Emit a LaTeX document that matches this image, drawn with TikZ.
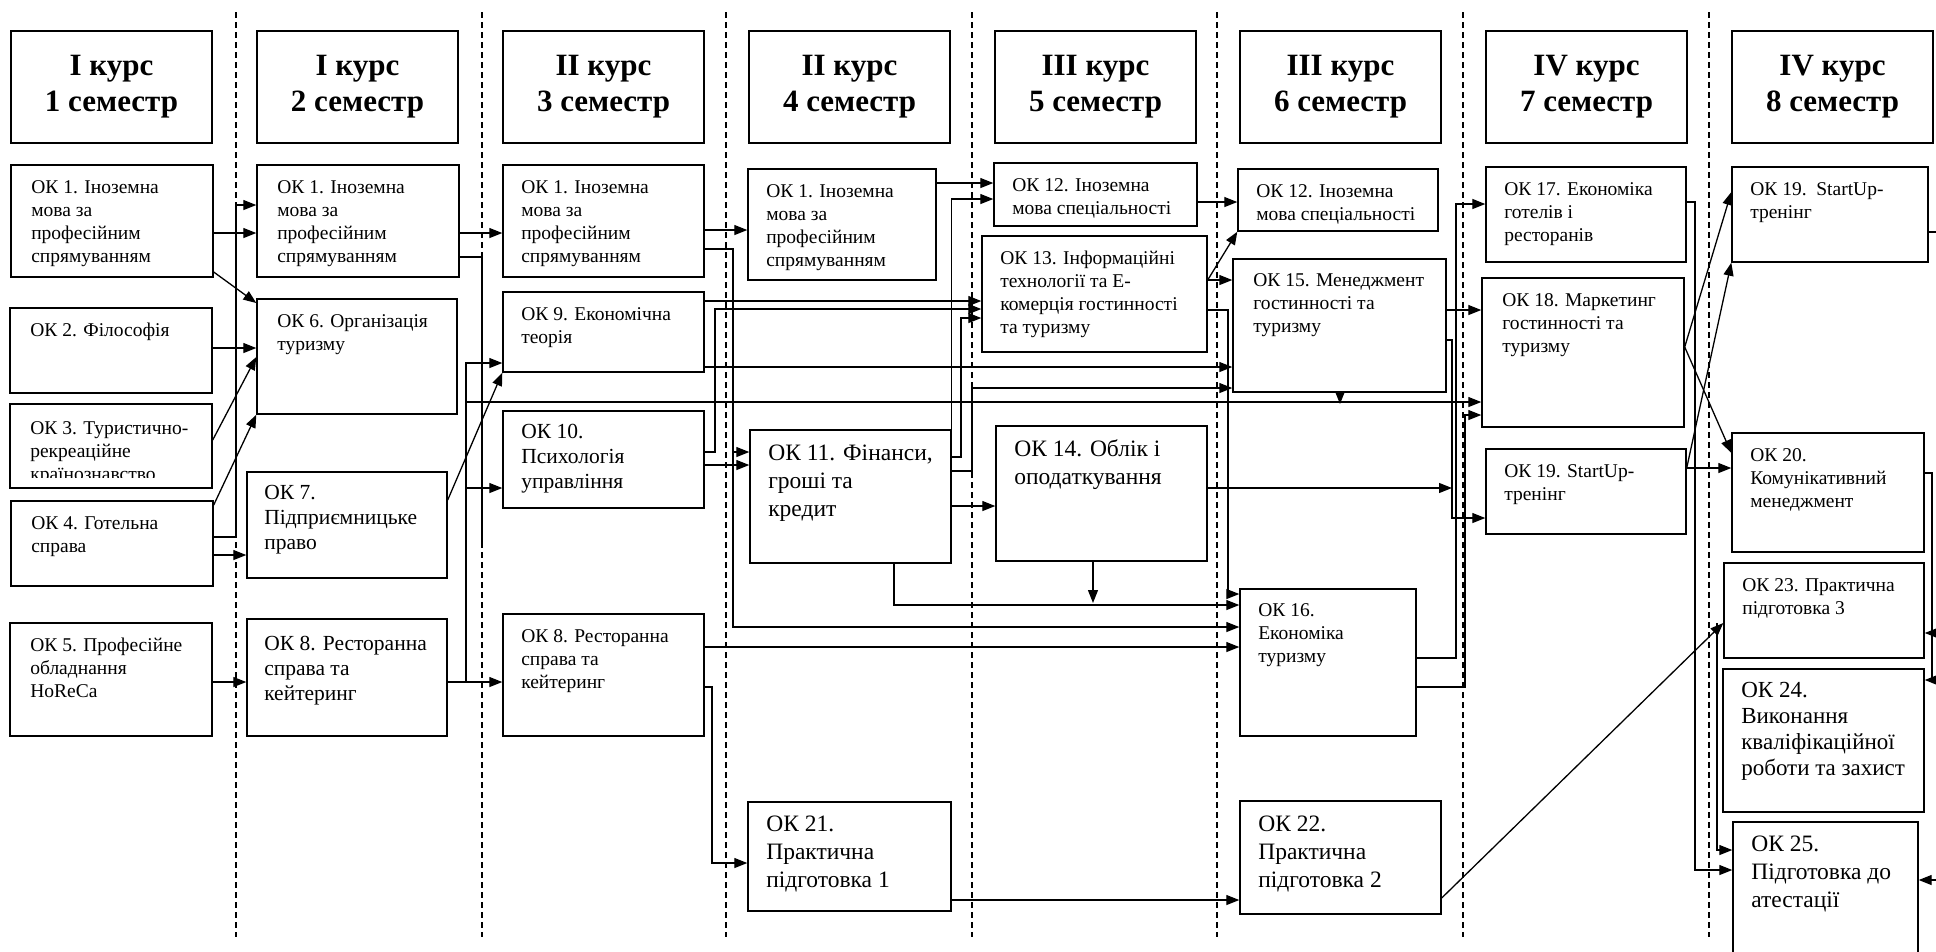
\documentclass[tikz,border=0pt]{standalone}
\usepackage{fontspec}
\setmainfont{Liberation Serif}
\usetikzlibrary{positioning,arrows.meta}

\begin{document}
\begin{tikzpicture}[x=1pt, y=-1pt,
    box/.style={draw, line width=1.4pt, fill=white, inner sep=0pt},
    head/.style={box, align=center, font=\bfseries\fontsize{31}{36}\selectfont},
    txt/.style={inner sep=0pt, outer sep=0pt, align=left},
    tsmall/.style={txt, font=\fontsize{19.5}{23}\selectfont},
    tmid/.style={txt, font=\fontsize{21.5}{25}\selectfont},
    tlarge/.style={txt, font=\fontsize{23.5}{28}\selectfont},
    link/.style={line width=1.3pt, -{Triangle[length=13pt,width=10pt]}},
    wire/.style={line width=1.3pt},
    sep/.style={line width=1.2pt, dash pattern=on 6pt off 4pt}]

    \useasboundingbox (0,0) rectangle (1936,951);

    % РОЗДІЛЬНИКИ СЕМЕСТРІВ
    \foreach \x in {236,482,726,972,1217,1463,1709}
        \draw[sep] (\x,12) -- (\x,937);

    % ЗАГОЛОВКИ
    \foreach \nr/\xa/\kr in {1/11/I, 2/257/I, 3/503/II, 4/749/II, 5/995/III, 6/1240/III, 7/1486/IV, 8/1732/IV}
        \node[head, minimum width=201pt, minimum height=112pt] (sem\nr) at (\xa+100.5,87) {\kr{} курс\\\nr{} семестр};

    % РАМКИ ДИСЦИПЛІН
    \foreach \nm/\xa/\ya/\xb/\yb in {
        k1a/11/165/213/277, k2/10/308/212/393, k3/10/404/212/488, k4/11/501/213/586, k5/10/623/212/736,
        k1b/257/165/459/277, k6/257/299/457/414, k7/247/472/447/578, k8b/247/619/447/736,
        k1c/503/165/704/277, k9/503/292/704/372, k10/503/411/704/508, k8c/503/614/704/736,
        k1d/748/169/936/280, k11/750/430/951/563, k21/748/802/951/911,
        k12e/994/163/1197/226, k13/982/236/1207/352, k14/996/426/1207/561,
        k12f/1238/169/1438/231, k15/1233/259/1446/392, k16/1240/589/1416/736, k22/1240/801/1441/914,
        k17/1486/167/1686/262, k18/1482/278/1684/427, k19g/1486/449/1686/534,
        k19h/1732/167/1928/262, k20/1732/433/1924/552, k23/1724/563/1924/658, k24/1723/669/1924/812, k25/1733/822/1918/958}
        \node[box, minimum width={(\xb-\xa)*1pt}, minimum height={(\yb-\ya)*1pt}] (\nm) at ({(\xa+\xb)/2},{(\ya+\yb)/2}) {};

    % ТЕКСТИ: 1 СЕМЕСТР
    \node[tsmall, below right=13pt and 21pt of k1a.north west] (k1a-t) {\strut ОК 1. Іноземна\\мова за\\професійним\\спрямуванням};
    \node[tsmall, below right=13pt and 21pt of k2.north west] (k2-t) {\strut ОК 2. Філософія};
    \begin{scope}
        \clip (10,404) rectangle (212,477);
        \node[tsmall, below right=15pt and 21pt of k3.north west] (k3-t) {\strut ОК 3. Туристично-\\рекреаційне\\країнознавство};
    \end{scope}
    \node[tsmall, below right=13pt and 21pt of k4.north west] (k4-t) {\strut ОК 4. Готельна\\справа};
    \node[tsmall, below right=13pt and 21pt of k5.north west] (k5-t) {\strut ОК 5. Професійне\\обладнання\\HoReCa};

    % 2 СЕМЕСТР
    \node[tsmall, below right=13pt and 21pt of k1b.north west] (k1b-t) {\strut ОК 1. Іноземна\\мова за\\професійним\\спрямуванням};
    \node[tsmall, below right=13pt and 21pt of k6.north west] (k6-t) {\strut ОК 6. Організація\\туризму};
    \node[tmid, below right=11pt and 18pt of k7.north west] (k7-t) {\strut ОК 7.\\Підприємницьке\\право};
    \node[tmid, below right=15pt and 18pt of k8b.north west] (k8b-t) {\strut ОК 8. Ресторанна\\справа та\\кейтеринг};

    % 3 СЕМЕСТР
    \node[tsmall, below right=13pt and 19pt of k1c.north west] (k1c-t) {\strut ОК 1. Іноземна\\мова за\\професійним\\спрямуванням};
    \node[tsmall, below right=13pt and 19pt of k9.north west] (k9-t) {\strut ОК 9. Економічна\\теорія};
    \node[tmid, below right=11pt and 19pt of k10.north west] (k10-t) {\strut ОК 10.\\Психологія\\управління};
    \node[tsmall, below right=13pt and 19pt of k8c.north west] (k8c-t) {\strut ОК 8. Ресторанна\\справа та\\кейтеринг};

    % 4 СЕМЕСТР
    \node[tsmall, below right=13pt and 19pt of k1d.north west] (k1d-t) {\strut ОК 1. Іноземна\\мова за\\професійним\\спрямуванням};
    \node[tlarge, below right=12pt and 19pt of k11.north west] (k11-t) {\strut ОК 11. Фінанси,\\гроші та\\кредит};
    \node[tlarge, below right=11pt and 19pt of k21.north west] (k21-t) {\strut ОК 21.\\Практична\\підготовка 1};

    % 5 СЕМЕСТР
    \node[tsmall, below right=13pt and 19pt of k12e.north west] (k12e-t) {\strut ОК 12. Іноземна\\мова спеціальності};
    \node[tsmall, below right=13pt and 19pt of k13.north west] (k13-t) {\strut ОК 13. Інформаційні\\технології та Е-\\комерція гостинності\\та туризму};
    \node[tlarge, below right=12pt and 19pt of k14.north west] (k14-t) {\strut ОК 14. Облік і\\оподаткування};

    % 6 СЕМЕСТР
    \node[tsmall, below right=13pt and 19pt of k12f.north west] (k12f-t) {\strut ОК 12. Іноземна\\мова спеціальності};
    \node[tsmall, below right=12pt and 21pt of k15.north west] (k15-t) {\strut ОК 15. Менеджмент\\гостинності та\\туризму};
    \node[tsmall, below right=12pt and 19pt of k16.north west] (k16-t) {\strut ОК 16.\\Економіка\\туризму};
    \node[tlarge, below right=12pt and 19pt of k22.north west] (k22-t) {\strut ОК 22.\\Практична\\підготовка 2};

    % 7 СЕМЕСТР
    \node[tsmall, below right=13pt and 19pt of k17.north west] (k17-t) {\strut ОК 17. Економіка\\готелів і\\ресторанів};
    \node[tsmall, below right=13pt and 21pt of k18.north west] (k18-t) {\strut ОК 18. Маркетинг\\гостинності та\\туризму};
    \node[tsmall, below right=13pt and 19pt of k19g.north west] (k19g-t) {\strut ОК 19. StartUp-\\тренінг};

    % 8 СЕМЕСТР
    \node[tsmall, below right=13pt and 19pt of k19h.north west] (k19h-t) {\strut ОК 19.\ \ StartUp-\\тренінг};
    \node[tsmall, below right=13pt and 19pt of k20.north west] (k20-t) {\strut ОК 20.\\Комунікативний\\менеджмент};
    \node[tsmall, below right=13pt and 19pt of k23.north west] (k23-t) {\strut ОК 23. Практична\\підготовка 3};
    \node[txt, font=\fontsize{23}{26}\selectfont, below right=11pt and 19pt of k24.north west] (k24-t) {\strut ОК 24.\\Виконання\\кваліфікаційної\\роботи та захист};
    \node[tlarge, below right=11pt and 19pt of k25.north west] (k25-t) {\strut ОК 25.\\Підготовка до\\атестації};

    % ЗВ'ЯЗКИ 1 -> 2
    \draw[link] (k1a.east |- 0,233) -- (k1b.west |- 0,233);
    \draw[link] (k4.east |- 0,537) -| (236,205) -- (k1b.west |- 0,205);
    \draw[link] (k1a.east |- 0,272) -- (k6.west |- 0,303);
    \draw[link] (k2.east |- 0,348) -- (k6.west |- 0,348);
    \draw[link] (k3.east |- 0,440) -- (k6.west |- 0,357);
    \draw[link] (k4.east |- 0,505) -- (k6.south west);
    \draw[link] (k4.east |- 0,555) -- (k7.west |- 0,555);
    \draw[link] (k5.east |- 0,682) -- (k8b.west |- 0,682);

    % 2 -> 3
    \draw[link] (k1b.east |- 0,233) -- (k1c.west |- 0,233);
    \coordinate (j1) at (482,548);
    \draw[wire] (k1b.east |- 0,257) -| (j1);
    \draw[link] (k8b.east |- 0,682) -- (k8c.west |- 0,682);
    \coordinate (bus) at (466,682);
    \draw[link] (bus) |- (k9.west |- 0,363);
    \draw[link] (bus |- 0,488) -- (k10.west |- 0,488);
    \draw[link] (bus |- 0,402) -- (k18.west |- 0,402);
    \draw[link] (k7.east |- 0,500) -- (k9.south west);

    % 3 -> 4
    \draw[link] (k1c.east |- 0,230) -- (k1d.west |- 0,230);
    \draw[link] (k1c.east |- 0,249) -| (733,452) -- (k11.west |- 0,452);
    \draw[link] (733,452) |- (k16.west |- 0,627);
    \draw[link] (k9.east |- 0,301) -- (k13.west |- 0,301);
    \draw[link] (k10.east |- 0,452) -| (715,309) -- (k13.west |- 0,309);
    \draw[link] (k9.east |- 0,367) -- (k15.west |- 0,367);
    \draw[link] (k10.east |- 0,465) -- (k11.west |- 0,465);
    \draw[link] (k8c.east |- 0,647) -- (k16.west |- 0,647);
    \draw[link] (k8c.east |- 0,687) -| (712,863) -- (k21.west |- 0,863);

    % 4 -> 5
    \draw[link] (k1d.east |- 0,183) -- (k12e.west |- 0,183);
    \draw[link] (k11.north east) |- (k12e.west |- 0,199);
    \draw[link] (k11.east |- 0,457) -| (961,318) -- (k13.west |- 0,318);
    \draw[link] (k11.east |- 0,471) -| (972,388) -- (k15.west |- 0,388);
    \draw[link] (k11.east |- 0,506) -- (k14.west |- 0,506);
    \draw[link] (k11.south -| 894,0) |- (k16.west |- 0,605);
    \draw[link] (k14.south -| 1093,0) -- (1093,603);
    \draw[link] (k21.east |- 0,900) -- (k22.west |- 0,900);

    % 5 -> 6
    \draw[link] (k12e.east |- 0,202) -- (k12f.west |- 0,202);
    \draw[link] (k13.east |- 0,280) -- (k15.west |- 0,280);
    \draw[link] (k13.east |- 0,280) -- (k12f.south west);
    \draw[link] (k13.east |- 0,310) -| (1228,594) -- (k16.west |- 0,594);
    \coordinate (j2) at (1452,488);
    \draw[link] (k14.east |- 0,488) -- (j2);
    \draw[link] (k15.south -| 1340,0) -- (1340,404);

    % 6 -> 7
    \draw[link] (k15.east |- 0,310) -- (k18.west |- 0,310);
    \draw[link] (k15.east |- 0,340) -| (1452,518) -- (k19g.west |- 0,518);
    \draw[link] (k16.east |- 0,658) -| (1456,204) -- (k17.west |- 0,204);
    \draw[link] (k16.east |- 0,687) -| (1465,415) -- (k18.west |- 0,415);

    % 7 -> 8
    \draw[link] (k17.east |- 0,202) -| (1695,870) -- (k25.west |- 0,870);
    \draw[link] (k18.east |- 0,347) -- (k19h.west |- 0,192);
    \draw[link] (k18.east |- 0,347) -- (k20.west |- 0,453);
    \draw[link] (k19g.east |- 0,468) -- (k19h.south west);
    \draw[link] (k19g.east |- 0,468) -- (k20.west |- 0,468);
    \draw[link] (k22.east |- 0,898) -- (k23.west |- 0,623);
    \draw[link] (1717,623) |- (k25.west |- 0,850);

    % ПРАВИЙ КРАЙ
    \coordinate (e1) at (1936,232);
    \draw[wire] (k19h.east |- 0,232) -- (e1);
    \draw[link] (k20.east |- 0,473) -| (1932,680) -- (k24.east |- 0,680);
    \draw[link] (1932,633) -- (k23.east |- 0,633);
    \coordinate (e2) at (1936,880);
    \draw[link] (e2) -- (k25.east |- 0,880);

\end{tikzpicture}
\end{document}
